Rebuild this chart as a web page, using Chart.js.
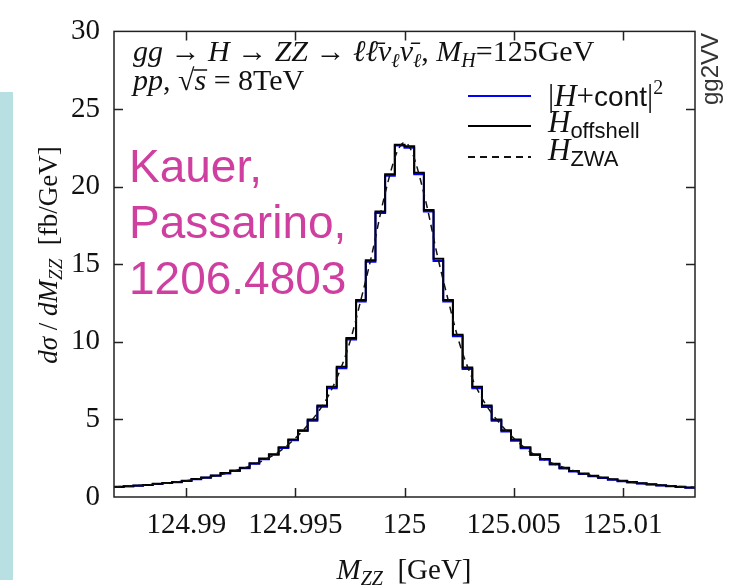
<!DOCTYPE html>
<html>
<head>
<meta charset="utf-8">
<script src="https://cdn.jsdelivr.net/npm/chart.js@4.4.1/dist/chart.umd.min.js"></script>
<style>
  body { margin: 0; background: #fff; }
  #wrap { position: relative; width: 729px; height: 587px; }
</style>
</head>
<body>
<div id="wrap"><canvas id="myChart" width="729" height="587"></canvas></div>
<script>
// x range and binning of the histograms (GeV)
const xMin = 124.98668, xMax = 125.01332, nBins = 60;
const xTicks = [124.99, 124.995, 125, 125.005, 125.01];
const xTickLabels = ['124.99', '124.995', '125', '125.005', '125.01'];
const yTicks = [0, 5, 10, 15, 20, 25, 30];

// H_offshell histogram, fb/GeV per bin (left to right)
const offshell = [0.66, 0.70, 0.74, 0.78, 0.85, 0.91, 0.97, 1.05, 1.16, 1.26,
  1.39, 1.54, 1.70, 1.89, 2.17, 2.48, 2.75, 3.2, 3.7, 4.3,
  5.0, 5.9, 7.1, 8.4, 10.25, 12.7, 15.25, 18.4, 20.8, 22.7,
  22.6, 20.9, 18.5, 15.35, 12.7, 10.45, 8.35, 7.1, 5.9, 5.0,
  4.3, 3.7, 3.2, 2.75, 2.45, 2.15, 1.88, 1.68, 1.52, 1.37,
  1.25, 1.14, 1.04, 0.96, 0.89, 0.82, 0.76, 0.71, 0.66, 0.62];

// |H+cont|^2 histogram
const hcont = [0.64, 0.69, 0.72, 0.77, 0.83, 0.90, 0.95, 1.03, 1.14, 1.24,
  1.37, 1.52, 1.67, 1.86, 2.14, 2.44, 2.72, 3.15, 3.65, 4.25,
  4.92, 5.82, 7.0, 8.3, 10.15, 12.6, 15.15, 18.3, 20.7, 22.65,
  22.5, 20.8, 18.4, 15.2, 12.6, 10.35, 8.25, 7.0, 5.8, 4.92,
  4.22, 3.62, 3.14, 2.7, 2.4, 2.1, 1.84, 1.64, 1.49, 1.34,
  1.22, 1.11, 1.02, 0.93, 0.87, 0.80, 0.74, 0.69, 0.64, 0.60];

// H_ZWA curve
const zwaX = [124.98668, 124.988, 124.99, 124.992, 124.994, 124.995, 124.996, 124.9965,
  124.997, 124.9975, 124.998, 124.9985, 124.999, 124.9995, 124.99975, 125,
  125.00025, 125.0005, 125.001, 125.0015, 125.002, 125.0025, 125.003, 125.0035,
  125.004, 125.005, 125.006, 125.008, 125.01, 125.012, 125.01332];
const zwaY = [0.65, 0.76, 1.05, 1.6, 2.7, 3.8, 5.4, 6.5,
  8.0, 10.0, 12.7, 15.6, 18.9, 21.6, 22.5, 22.85,
  22.5, 21.6, 18.9, 15.6, 12.7, 10.0, 8.0, 6.5,
  5.4, 3.8, 2.7, 1.6, 1.03, 0.74, 0.62];

const binW = (xMax - xMin) / nBins;
const edges = Array.from({length: nBins + 1}, (_, i) => xMin + i * binW);
const histPts = vals => edges.map((e, i) => ({x: e, y: vals[Math.min(i, nBins - 1)]}));

const SERIF = '"Liberation Serif", "DejaVu Serif", serif';
const SANS = '"Liberation Sans", "DejaVu Sans", sans-serif';
const it = s => 'italic ' + s + 'px ' + SERIF;
const rm = s => s + 'px ' + SERIF;
const sf = s => s + 'px ' + SANS;

// draws a row of [text, font, dy] pieces, returns the width
function rich(ctx, parts, x, y, align) {
  let w = 0;
  parts.forEach(p => { ctx.font = p[1]; w += ctx.measureText(p[0]).width; });
  let cx = align === 'center' ? x - w / 2 : x;
  parts.forEach(p => {
    ctx.font = p[1];
    ctx.fillText(p[0], cx, y + (p[2] || 0));
    p.x0 = cx;
    cx += ctx.measureText(p[0]).width;
    p.x1 = cx;
  });
  return w;
}

const decor = {
  id: 'decor',
  beforeDraw(chart) {
    const ctx = chart.ctx;
    ctx.save();
    ctx.fillStyle = '#b8dfe2';
    ctx.fillRect(0, 92, 13, 488);
    ctx.restore();
  },
  afterDraw(chart) {
    const ctx = chart.ctx, a = chart.chartArea;
    const xs = chart.scales.x, ys = chart.scales.y;
    ctx.save();
    // frame and inner ticks
    ctx.strokeStyle = '#222';
    ctx.lineWidth = 1.5;
    ctx.strokeRect(a.left, a.top, a.right - a.left, a.bottom - a.top);
    ctx.beginPath();
    xTicks.forEach(v => {
      const px = Math.round(xs.getPixelForValue(v)) + 0.5;
      ctx.moveTo(px, a.bottom); ctx.lineTo(px, a.bottom - 9);
      ctx.moveTo(px, a.top); ctx.lineTo(px, a.top + 9);
    });
    yTicks.slice(1, -1).forEach(v => {
      const py = Math.round(ys.getPixelForValue(v)) + 0.5;
      ctx.moveTo(a.left, py); ctx.lineTo(a.left + 9, py);
      ctx.moveTo(a.right, py); ctx.lineTo(a.right - 9, py);
    });
    ctx.stroke();

    ctx.fillStyle = '#111';
    ctx.textBaseline = 'alphabetic';
    ctx.textAlign = 'left';

    // process text
    rich(ctx, [['gg', it(30)], [' → ', rm(30)], ['H', it(30)], [' → ', rm(30)],
      ['ZZ', it(30)], [' → ', rm(30)], ['ℓ', it(30)], ['ℓ̄', it(30)], ['ν', it(30)],
      ['ℓ', it(20), 6], ['ν̄', it(30)], ['ℓ', it(20), 6], [', ', rm(30)],
      ['M', it(30)], ['H', it(20), 6], ['=125GeV', rm(30)]], 133, 61);
    const l2 = [['pp', it(30)], [', ', rm(30)], ['√', rm(30)], ['s', it(30)], [' = 8TeV', rm(30)]];
    rich(ctx, l2, 133, 90);
    ctx.lineWidth = 1.5;
    ctx.strokeStyle = '#111';
    ctx.beginPath();
    ctx.moveTo(l2[2].x1 - 1, 70); ctx.lineTo(l2[3].x1 + 1, 70);
    ctx.stroke();

    // legend
    const sets = chart.data.datasets;
    const rows = [
      {ds: sets[2], y: 96, parts: [['|', rm(31)], ['H', it(31)], ['+', rm(31)], ['cont', sf(28)], ['|', rm(31)], ['2', rm(20), -12]], by: 106},
      {ds: sets[1], y: 126, parts: [['H', it(31)], ['offshell', sf(22), 6]], by: 132},
      {ds: sets[0], y: 157, parts: [['H', it(31)], ['ZWA', sf(22), 6]], by: 160}
    ];
    rows.forEach(r => {
      ctx.strokeStyle = r.ds.borderColor;
      ctx.lineWidth = 2;
      ctx.setLineDash(r.ds.borderDash || []);
      ctx.beginPath();
      ctx.moveTo(468, r.y); ctx.lineTo(531, r.y);
      ctx.stroke();
      ctx.setLineDash([]);
      ctx.fillStyle = '#111';
      rich(ctx, r.parts, 548, r.by);
    });

    // axis titles
    rich(ctx, [['M', it(29)], ['ZZ', it(20), 6], ['  [GeV]', rm(29)]], 404, 579, 'center');
    ctx.save();
    ctx.translate(57, 255);
    ctx.rotate(-Math.PI / 2);
    rich(ctx, [['dσ', it(27)], [' / ', rm(27)], ['dM', it(27)], ['ZZ', it(19), 5], ['  [fb/GeV]', rm(27)]], 0, 0, 'center');
    ctx.restore();

    // side label
    ctx.save();
    ctx.translate(718, 69);
    ctx.rotate(-Math.PI / 2);
    ctx.fillStyle = '#333';
    ctx.font = sf(24);
    ctx.textAlign = 'center';
    ctx.fillText('gg2VV', 0, 0);
    ctx.restore();

    // citation
    ctx.fillStyle = '#cf3fa0';
    ctx.font = sf(46);
    ctx.textAlign = 'left';
    ctx.fillText('Kauer,', 129, 182);
    ctx.fillText('Passarino,', 129, 238);
    ctx.fillText('1206.4803', 129, 294);
    ctx.restore();
  }
};

new Chart(document.getElementById('myChart'), {
  type: 'line',
  data: {
    datasets: [
      {label: 'H_ZWA', data: zwaX.map((x, i) => ({x: x, y: zwaY[i]})), borderColor: '#111',
        borderWidth: 1.5, borderDash: [7, 5], pointRadius: 0, cubicInterpolationMode: 'monotone', order: 0},
      {label: 'H_offshell', data: histPts(offshell), borderColor: '#000', borderWidth: 2,
        stepped: 'before', pointRadius: 0, order: 1},
      {label: '|H+cont|^2', data: histPts(hcont), borderColor: '#0000ff', borderWidth: 2,
        stepped: 'before', pointRadius: 0, order: 2}
    ]
  },
  options: {
    responsive: false,
    animation: false,
    events: [],
    layout: {padding: {left: 0, top: 21, right: 34, bottom: 0}},
    plugins: {legend: {display: false}, tooltip: {enabled: false}},
    scales: {
      x: {
        type: 'linear', min: xMin, max: xMax,
        grid: {display: false, drawTicks: false}, border: {display: false},
        afterBuildTicks: s => { s.ticks = xTicks.map(v => ({value: v})); },
        afterFit: s => { s.height = 90; },
        ticks: {
          padding: 11, color: '#111', maxRotation: 0, autoSkip: false,
          font: {family: SERIF, size: 29},
          callback: (v, i) => xTickLabels[i]
        }
      },
      y: {
        min: 0, max: 30,
        grid: {display: false, drawTicks: false}, border: {display: false},
        afterBuildTicks: s => { s.ticks = yTicks.map(v => ({value: v})); },
        afterFit: s => { s.width = 114; },
        ticks: {padding: 14, color: '#111', font: {family: SERIF, size: 29}}
      }
    }
  },
  plugins: [decor]
});
</script>
</body>
</html>
